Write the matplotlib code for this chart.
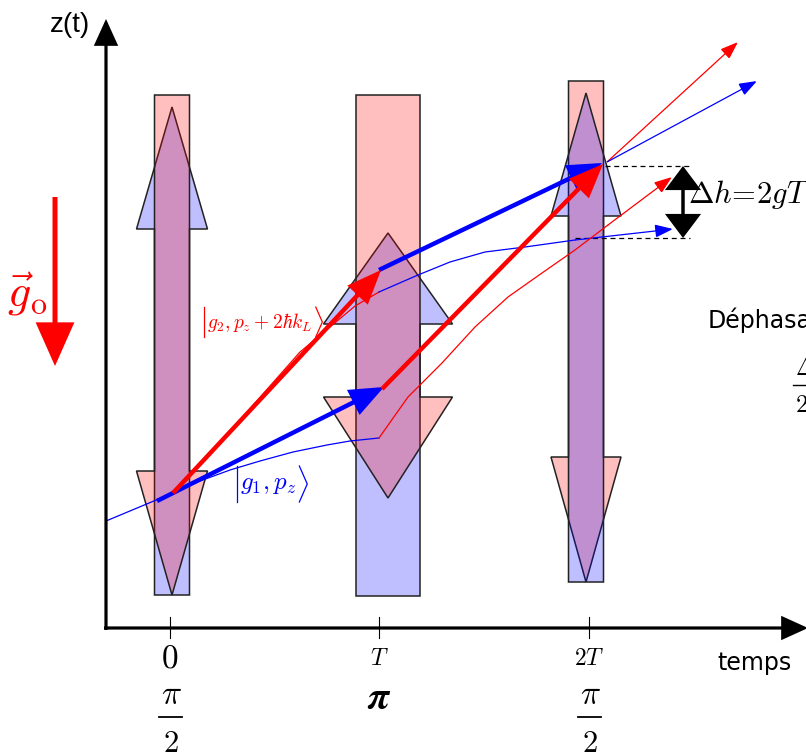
import matplotlib.pyplot as plt
from matplotlib.patches import Polygon, FancyArrowPatch

plt.rcParams['mathtext.fontset'] = 'cm'

# everything below is in pixel coordinates of the 806x755 picture, y pointing down

# laser pulses: blue arrow points up, red arrow points down
pulse_x = [172, 388, 586]
shaft_half = [17.5, 32, 17.5]
head_half = [35.5, 64.5, 35]
up_bottom = [595, 596, 582]
up_base = [229, 324, 216]
up_tip = [107, 233, 93]
down_top = [95, 95, 81]
down_base = [471, 397, 457]
down_tip = [595, 498, 582]
red_on_top = [True, True, False]

# thick arrows (start, end)
thick_blue = [((157, 501), (384, 387)), ((379, 270), (602, 163))]
thick_red = [((173, 493), (381, 270)), ((382, 389), (603, 164))]

# thin trajectories
thin_blue_low = [(106, 521), (173, 493), (200, 481), (230, 470), (260, 461),
                 (293, 452), (327, 445), (350, 441), (379, 438)]
thin_red_up = [(173, 493), (240, 420), (300, 352), (330, 327), (355, 306), (379, 292)]
thin_blue_up = [(379, 292), (418, 275), (450, 262), (485, 252), (525, 247),
                (575, 240), (673, 229)]
thin_red_low = [(379, 438), (408, 397), (442, 363), (475, 327), (508, 297),
                (542, 273), (575, 250), (608, 225), (672, 177)]
out_red = [(607, 162), (738, 42)]
out_blue = [(607, 162), (757, 81)]

# time axis
tick_x = [170, 379, 589]
tick_top = ['$0$', '$T$', '$2T$']
tick_top_size = [24, 17, 17]
tick_phase = [r'$\pi$', r'$\boldsymbol{\pi}$', r'$\pi$']
tick_phase_size = [24, 28, 24]
half_pulse = [True, False, True]

# height difference
dh_top, dh_bottom = 166, 238

fig = plt.figure(figsize=(8.06, 7.55), dpi=100)
ax = fig.add_axes([0, 0, 1, 1])
ax.set_xlim(0, 806)
ax.set_ylim(755, 0)
ax.axis('off')

BLUE_F = (0, 0, 1, 0.25)
RED_F = (1, 0, 0, 0.25)


def arrow(p0, p1, color, lw, style, ms, z=5):
    ax.add_patch(FancyArrowPatch(p0, p1, arrowstyle=style, mutation_scale=ms,
                                 color=color, lw=lw, shrinkA=0, shrinkB=0,
                                 joinstyle='miter', capstyle='butt', zorder=z))


def ket(x, y, body, size, color, bar_h):
    # tall | ... > around the state, like the original
    ax.plot([x, x], [y - bar_h / 2, y + bar_h / 2], color=color, lw=0.9)
    t = ax.text(x + 3, y, body, fontsize=size, color=color, ha='left', va='center')
    r = fig.canvas.get_renderer()
    x1 = ax.transData.inverted().transform(t.get_window_extent(r))[1][0] + 3
    w = bar_h * 0.22
    ax.plot([x1, x1 + w, x1], [y - bar_h / 2, y, y + bar_h / 2], color=color, lw=0.9)


# pulses
for i, x in enumerate(pulse_x):
    s, h = shaft_half[i], head_half[i]
    up = Polygon([(x - s, up_bottom[i]), (x - s, up_base[i]), (x - h, up_base[i]),
                  (x, up_tip[i]), (x + h, up_base[i]), (x + s, up_base[i]),
                  (x + s, up_bottom[i])], closed=True,
                 facecolor=BLUE_F, edgecolor='#222222', lw=1.1)
    down = Polygon([(x - s, down_top[i]), (x - s, down_base[i]), (x - h, down_base[i]),
                    (x, down_tip[i]), (x + h, down_base[i]), (x + s, down_base[i]),
                    (x + s, down_top[i])], closed=True,
                   facecolor=RED_F, edgecolor='#222222', lw=1.1)
    if red_on_top[i]:
        up.set_zorder(1); down.set_zorder(2)
    else:
        down.set_zorder(1); up.set_zorder(2)
    ax.add_patch(up)
    ax.add_patch(down)

# thin trajectories
thin_style = '-|>,head_length=1.1,head_width=0.4'
for pts, col, tip in [(thin_blue_low, 'blue', False), (thin_red_up, 'red', False),
                      (thin_blue_up, 'blue', True), (thin_red_low, 'red', True),
                      (out_red, 'red', True), (out_blue, 'blue', True)]:
    xs = [p[0] for p in pts]
    ys = [p[1] for p in pts]
    if tip:
        ax.plot(xs[:-1], ys[:-1], color=col, lw=0.9, zorder=4)
        arrow(pts[-2], pts[-1], col, 0.9, thin_style, 10, z=4)
    else:
        ax.plot(xs, ys, color=col, lw=0.9, zorder=4)

# thick arrows
thick_style = '-|>,head_length=1.35,head_width=0.55'
for p0, p1 in thick_blue:
    arrow(p0, p1, 'blue', 3.2, thick_style, 14)
for p0, p1 in thick_red:
    arrow(p0, p1, 'red', 3.2, thick_style, 14)

# height difference
ax.plot([605, 692], [dh_top, dh_top], color='black', lw=0.9, ls=(0, (4, 3)), zorder=3)
ax.plot([575, 690], [dh_bottom, dh_bottom], color='black', lw=0.9, ls=(0, (4, 3)), zorder=3)
arrow((683, dh_top), (683, dh_bottom), 'black', 2.5,
      '<|-|>,head_length=1.0,head_width=0.75', 14)
ax.text(688, 194, r'$\Delta h\!=\!2gT^2$', fontsize=22, ha='left', va='center')

ax.text(708, 320, 'Déphasage', fontsize=17, ha='left', va='center',
        family='DejaVu Sans')
ax.text(795, 368, r'$\Delta$', fontsize=18, ha='left', va='center')
ax.plot([793, 810], [385, 385], color='black', lw=1)
ax.text(795, 405, r'$2$', fontsize=18, ha='left', va='center')

# gravity
arrow((55, 197), (55, 366), 'red', 3.6, '-|>,head_length=1.8,head_width=0.8', 14)
ax.text(7, 294, r'$\vec{g}_{\mathrm{o}}$', fontsize=33, color='red',
        ha='left', va='center')

# state labels
ket(204, 322, r'$g_2, p_z + 2\hbar k_L$', 14, 'red', 30)
ket(237, 484, r'$g_1, p_z$', 18, 'blue', 36)

# axes
arrow((106, 630), (106, 19), 'black', 2.3, '-|>,head_length=1.1,head_width=0.5', 14, z=6)
arrow((104, 628), (808, 628), 'black', 2.3, '-|>,head_length=1.1,head_width=0.5', 14, z=6)
ax.text(90, 25, 'z(t)', fontsize=20, ha='right', va='center', family='Liberation Sans')
ax.text(717, 663, 'temps', fontsize=17, ha='left', va='center', family='DejaVu Sans')

for i, x in enumerate(tick_x):
    ax.plot([x, x], [617, 638], color='black', lw=0.8, zorder=6)
    ax.text(x, 658, tick_top[i], fontsize=tick_top_size[i], ha='center', va='center')
    if half_pulse[i]:
        ax.text(x + 1, 694, tick_phase[i], fontsize=tick_phase_size[i], ha='center', va='center')
        ax.plot([x - 11, x + 12], [717, 717], color='black', lw=1.3)
        ax.text(x + 1, 744, '$2$', fontsize=22, ha='center', va='center')
    else:
        ax.text(x, 698, tick_phase[i], fontsize=tick_phase_size[i], ha='center', va='center')

fig.savefig('out.png', dpi=100)
